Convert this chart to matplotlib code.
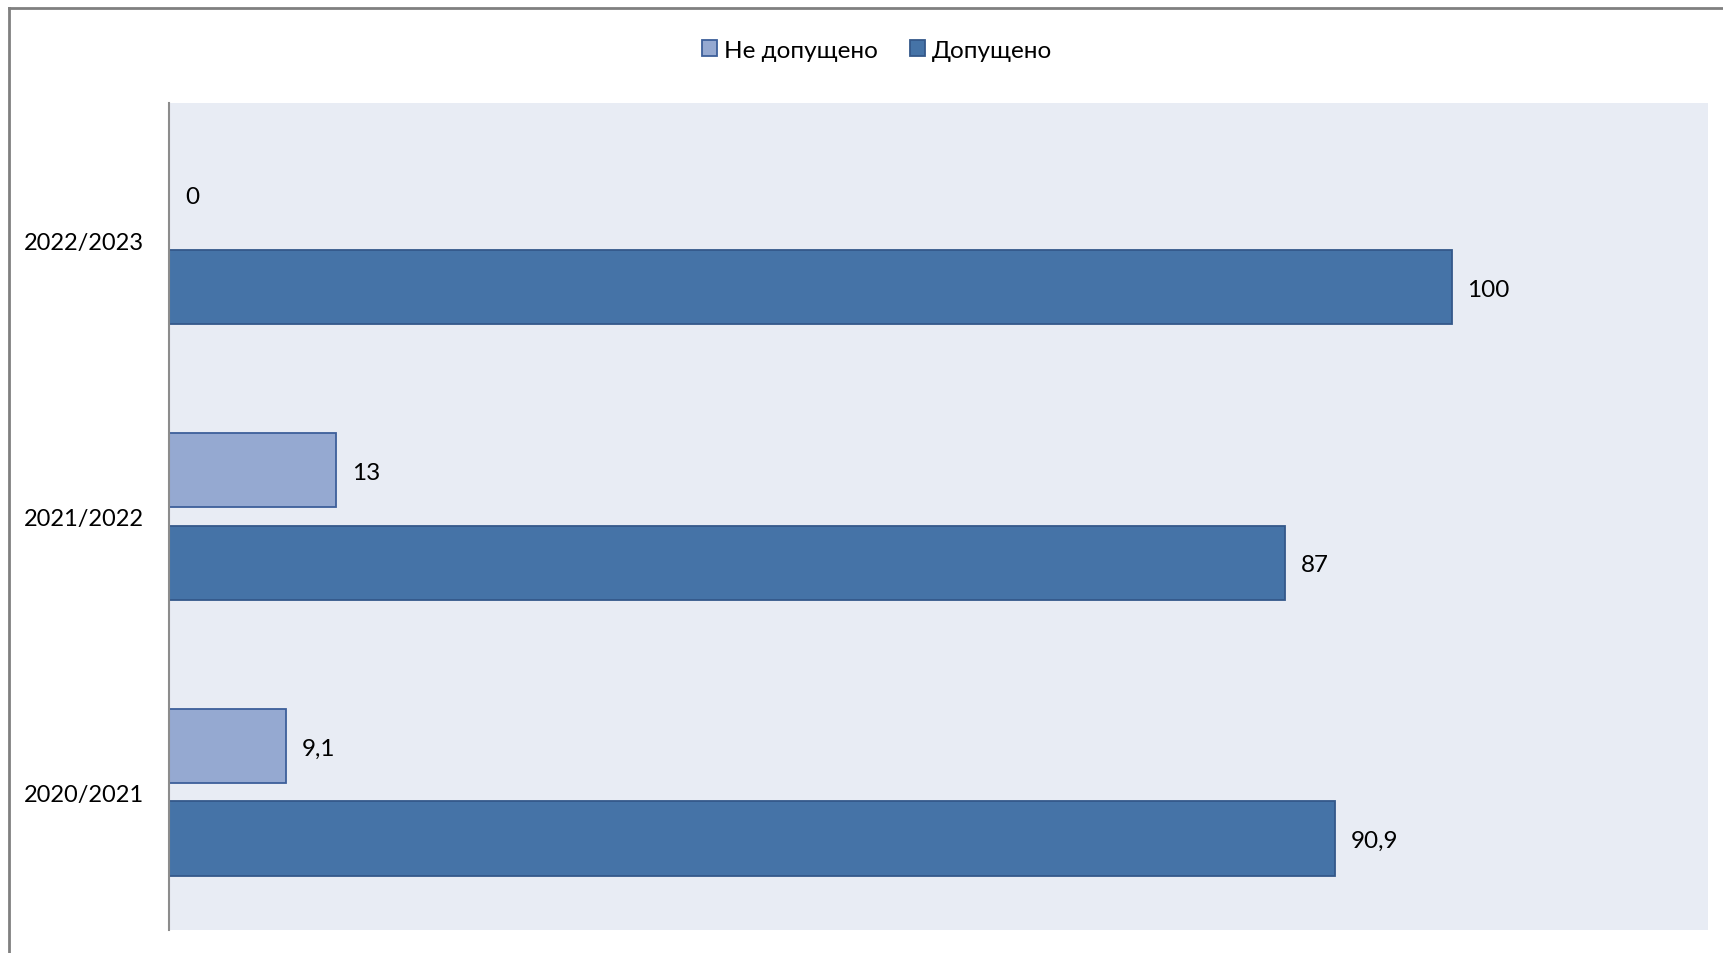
import matplotlib
matplotlib.use("Agg")
import matplotlib.pyplot as plt
from matplotlib.lines import Line2D
import numpy as np

plt.rcParams['font.family'] = ['Lato', 'DejaVu Sans']

categories = ["2020/2021", "2021/2022", "2022/2023"]
not_admitted = [9.1, 13, 0]
admitted = [90.9, 87, 100]
series_names = ["Не допущено", "Допущено"]

W, H = 1723, 954
fig = plt.figure(figsize=(W / 100, H / 100), dpi=100)
fig.patch.set_facecolor("white")

ax = fig.add_axes([169 / W, 1 - 931 / H, (1708 - 169) / W, (931 - 104) / H])
ax.set_facecolor("#E8ECF4")

y = np.arange(len(categories))
h = 0.27
off = 0.168
light_fill, light_edge = "#95A9D1", "#3D5F9A"
dark_fill, dark_edge = "#4573A7", "#34588A"

b1 = ax.barh(y + off, not_admitted, height=h, color=light_fill, edgecolor=light_edge,
             linewidth=1.3, label=series_names[0])
b2 = ax.barh(y - off, admitted, height=h, color=dark_fill, edgecolor=dark_edge,
             linewidth=1.3, label=series_names[1])

def fmt(v):
    s = f"{v:g}"
    return s.replace(".", ",")

for bars, vals in ((b1, not_admitted), (b2, admitted)):
    for rect, v in zip(bars, vals):
        ax.annotate(fmt(v), xy=(v, rect.get_y() + rect.get_height() / 2),
                    xytext=(11.5, -1.5), textcoords="offset points",
                    ha="left", va="center", fontsize=17.5, color="black")

ax.set_xlim(0, 120)
ax.set_ylim(-0.5, len(categories) - 0.5)
ax.set_yticks(y)
ax.set_yticklabels(categories, fontsize=17)
ax.tick_params(axis="y", length=0, pad=18)
ax.set_xticks([])
for s in ("top", "right", "bottom"):
    ax.spines[s].set_visible(False)
ax.spines["left"].set_color("#8C8C8C")
ax.spines["left"].set_linewidth(1.5)

fig.legend(handles=[b1, b2], labels=series_names, loc="center",
           bbox_to_anchor=(877 / W, 1 - 51 / H), ncol=2, frameon=False,
           fontsize=17.5, handlelength=0.62, handleheight=0.62,
           handletextpad=0.3, columnspacing=1.3)

fig.add_artist(Line2D([9 / W, 9 / W], [0, 1 - 9 / H], transform=fig.transFigure,
                      color="#808080", linewidth=2))
fig.add_artist(Line2D([9 / W, 1], [1 - 9 / H, 1 - 9 / H], transform=fig.transFigure,
                      color="#808080", linewidth=2))

fig.savefig("out.png", dpi=100)
